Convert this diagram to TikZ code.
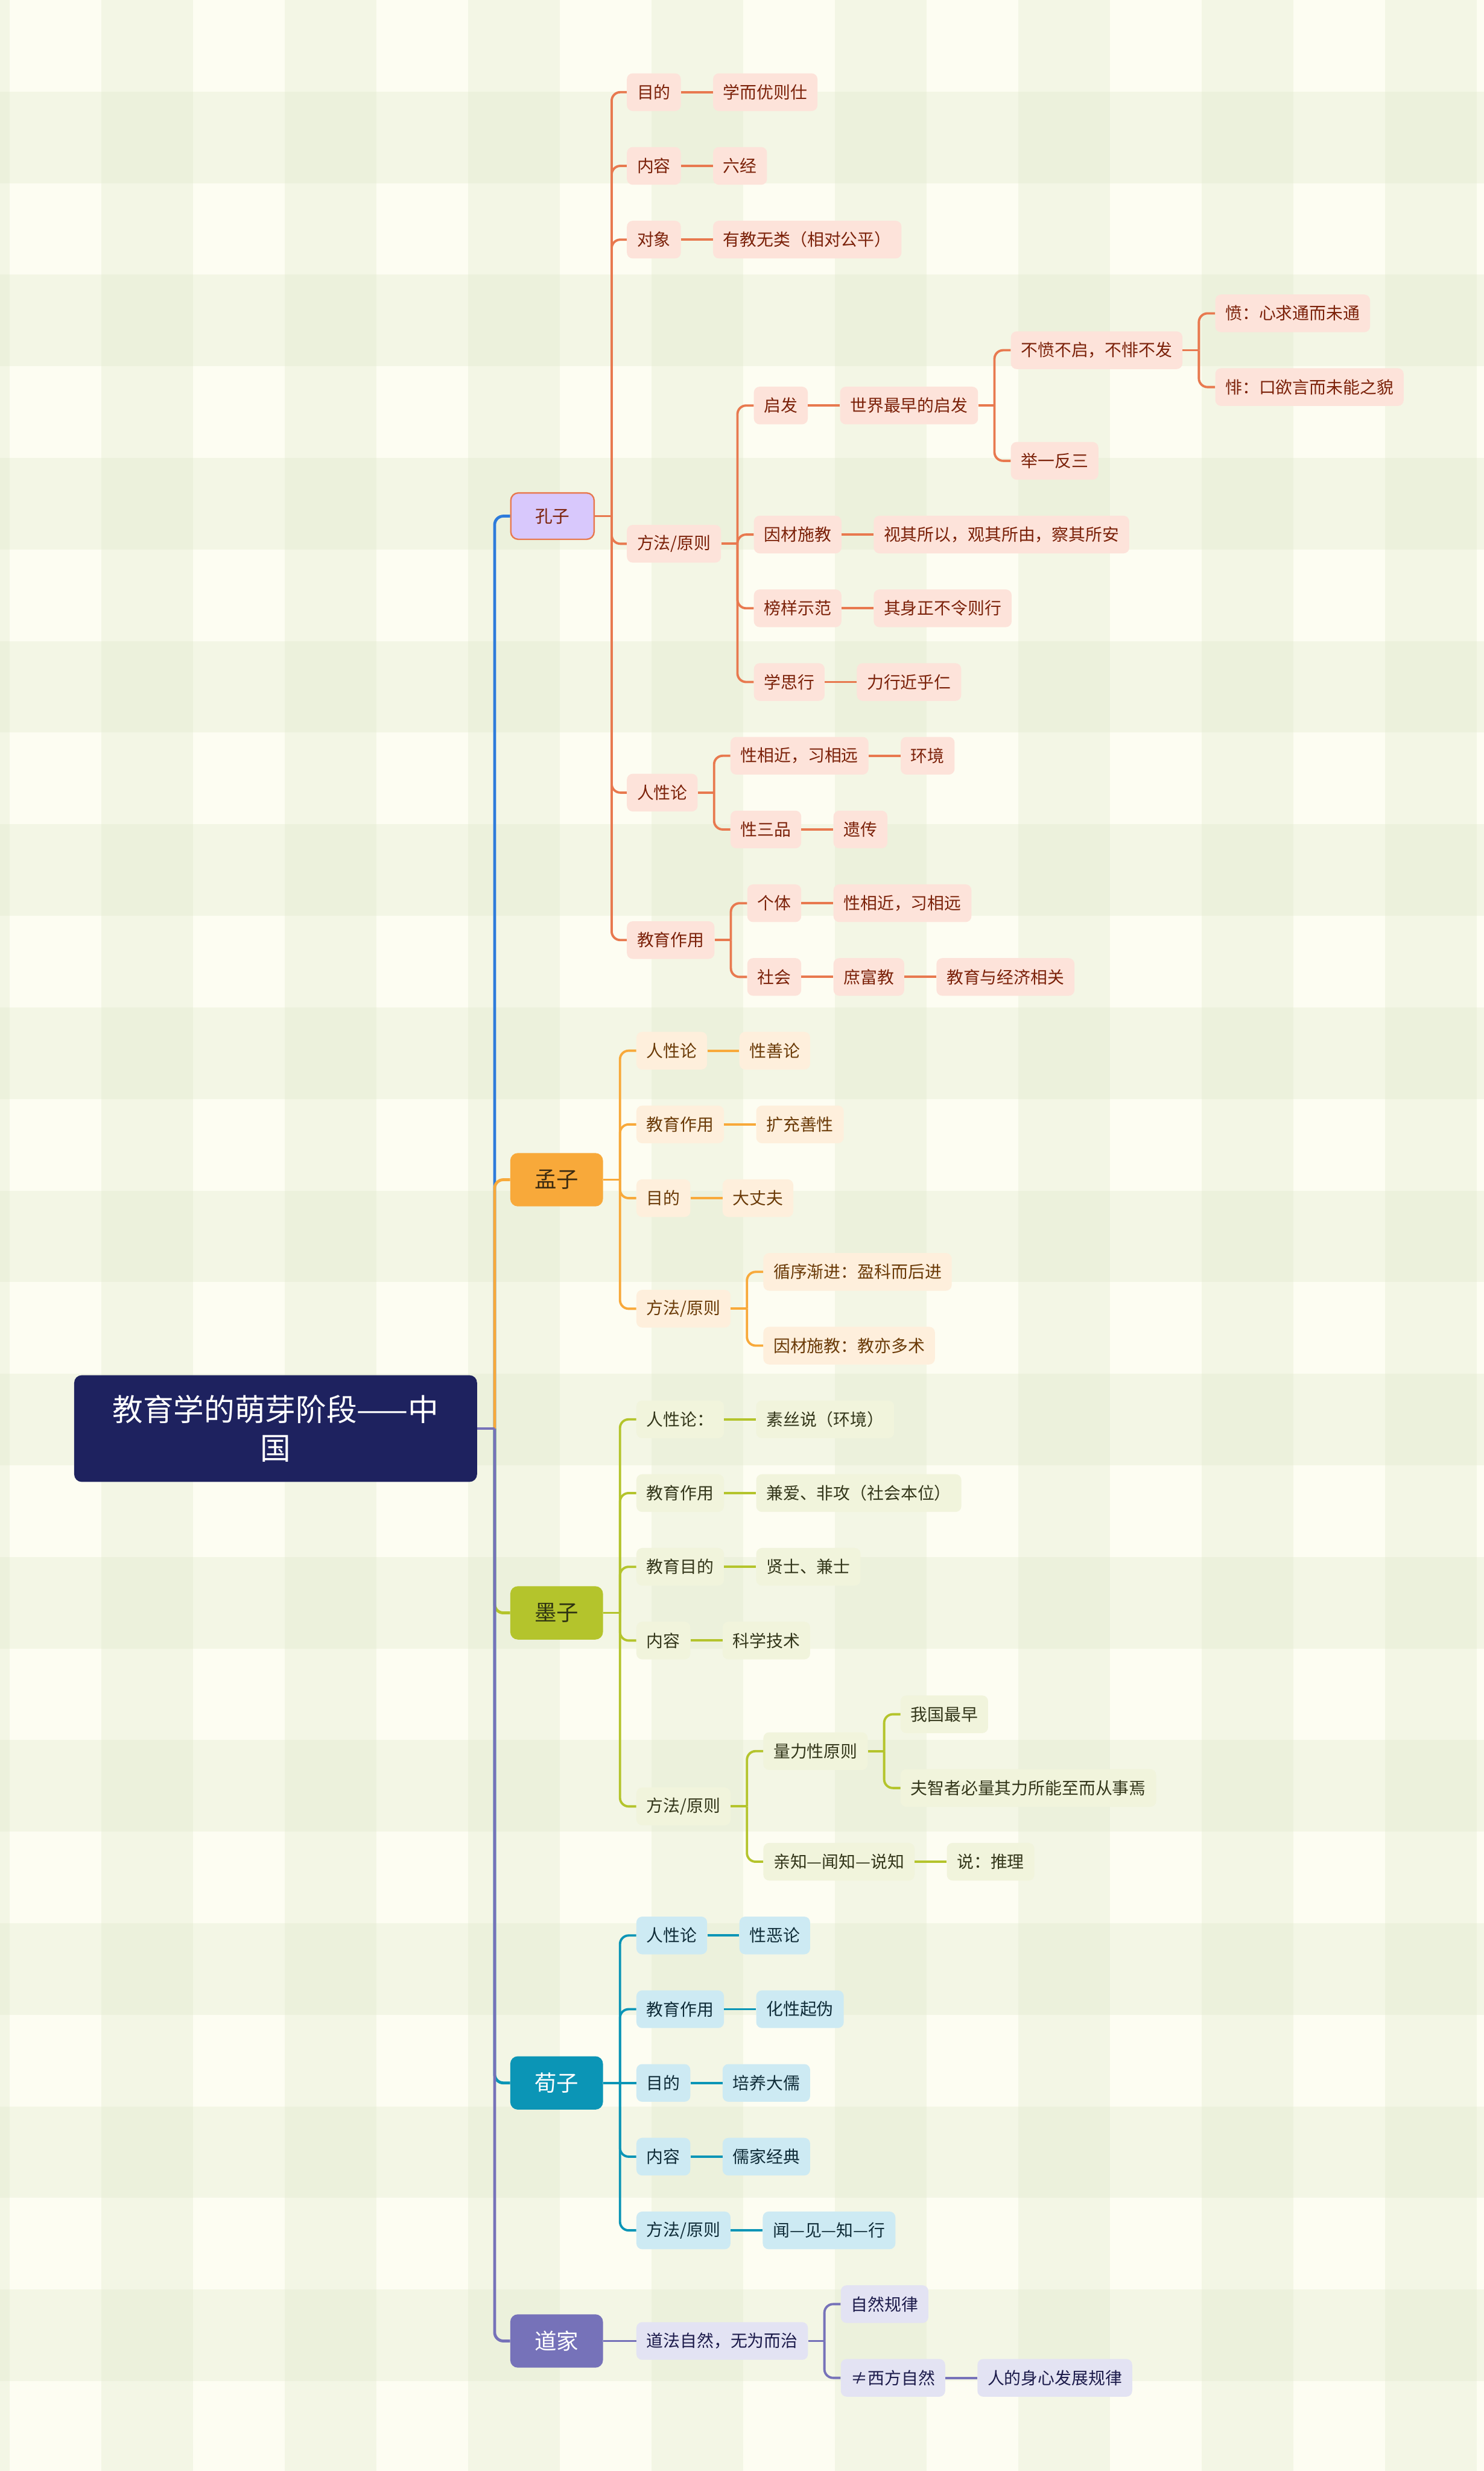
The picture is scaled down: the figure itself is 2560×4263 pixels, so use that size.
\documentclass[tikz,border=0pt]{standalone}
\usepackage{fontspec}
\setmainfont{Noto Sans CJK SC}
\usepackage{tikz}
\usetikzlibrary{positioning,calc}

\definecolor{bgcream}{HTML}{FDFDF2}
\definecolor{bgband}{HTML}{DCE6C8}
\definecolor{rootfill}{HTML}{1E225F}
\definecolor{kzblue}{HTML}{2D7BDB}
\definecolor{kzline}{HTML}{E8794F}
\definecolor{kzhead}{HTML}{D8C8FC}
\definecolor{kzfill}{HTML}{FDE3DA}
\definecolor{kztext}{HTML}{7B2109}
\definecolor{mzline}{HTML}{F8A93A}
\definecolor{mzhead}{HTML}{3B2A10}
\definecolor{mzfill}{HTML}{FEEFDC}
\definecolor{mztext}{HTML}{6A3A07}
\definecolor{moline}{HTML}{B4C42C}
\definecolor{mohead}{HTML}{2E3312}
\definecolor{mofill}{HTML}{F1F4DC}
\definecolor{motext}{HTML}{33361A}
\definecolor{xzline}{HTML}{0B95B6}
\definecolor{xzfill}{HTML}{CDEAF3}
\definecolor{xztext}{HTML}{0F2C38}
\definecolor{djline}{HTML}{7672B9}
\definecolor{djfill}{HTML}{E3E3F3}
\definecolor{djtext}{HTML}{1C1B4B}

\begin{document}
\begin{tikzpicture}[
  x=0.2mm, y=-25.44mm,
  root/.style={fill=rootfill, text=white, rounded corners=2.6mm, minimum width=139mm,
    minimum height=36.8mm, align=center, font=\fontsize{30}{38}\selectfont},
  head/.style={rounded corners=2.6mm, inner xsep=8.4mm, inner ysep=0pt, minimum height=18.4mm,
    anchor=west, font=\fontsize{21.6}{26}\selectfont},
  leaf/.style={rounded corners=2mm, inner xsep=3.5mm, inner ysep=0pt, minimum height=13mm,
    anchor=west, font=\fontsize{16.5}{20}\selectfont},
  trunk/.style={line width=1mm, rounded corners=3mm},
  link/.style={line width=0.8mm, rounded corners=3mm},
  kz/.style={leaf, fill=kzfill, text=kztext},
  mz/.style={leaf, fill=mzfill, text=mztext},
  mo/.style={leaf, fill=mofill, text=motext},
  xz/.style={leaf, fill=xzfill, text=xztext},
  dj/.style={leaf, fill=djfill, text=djtext},
  kzl/.style={link, draw=kzline},
  mzl/.style={link, draw=mzline},
  mol/.style={link, draw=moline},
  xzl/.style={link, draw=xzline},
  djl/.style={link, draw=djline}]

% checked background
\begin{scope}[shift={(0mm,31.8mm)}, x=0.2mm, y=-0.2mm]
  \useasboundingbox (0,0) rectangle (2560,4263);
  \fill[bgcream] (0,0) rectangle (2560,4263);
  \foreach \k in {-1,...,7}
    \fill[bgband, fill opacity=0.3] ({174.5+316.4*\k},0) rectangle ++(158.2,4263);
  \foreach \k in {0,...,12}
    \fill[bgband, fill opacity=0.3] (0,{158+316*\k}) rectangle ++(2560,158);
\end{scope}

% root and main branches
\node[root] (root) at (475.5,18.125) {教育学的萌芽阶段——中\\国};
\node[head, fill=kzhead, draw=kzline, line width=0.5mm, text=kztext, minimum height=16mm,
  font=\fontsize{17}{20}\selectfont] (kz) at (880,5.75) {孔子};
\node[head, fill=mzline, text=mzhead] (mz) at (880,14.75) {孟子};
\node[head, fill=moline, text=mohead] (mo) at (880,20.625) {墨子};
\node[head, fill=xzline, text=white] (xz) at (880,27) {荀子};
\node[head, fill=djline, text=white] (dj) at (880,30.5) {道家};

\coordinate (rj) at ($(root.east)+(30,0)$);
\draw[trunk, draw=kzblue] (rj) |- (kz.west);
\draw[trunk, draw=mzline] (rj) |- (mz.west);
\draw[trunk, draw=moline] (rj) |- (mo.west);
\draw[trunk, draw=xzline] (rj) |- (xz.west);
\draw[trunk, draw=djline] (rj) |- (dj.west);
\draw[trunk, draw=djline] (root.east) -- (rj);

% Kongzi
\coordinate (kzj) at ($(kz.east)+(29,0)$);
\coordinate (kzc) at ($(kz.east)+(55,0)$);
\node[kz] (kzmd) at (kzc |- 0,0) {目的};
\node[kz, right=11mm of kzmd] (kzmd1) {学而优则仕};
\node[kz] (kznr) at (kzc |- 0,1) {内容};
\node[kz, right=11mm of kznr] (kznr1) {六经};
\node[kz] (kzdx) at (kzc |- 0,2) {对象};
\node[kz, right=11mm of kzdx] (kzdx1) {有教无类（相对公平）};
\node[kz] (kzff) at (kzc |- 0,6.125) {方法/原则};
\node[kz] (kzrx) at (kzc |- 0,9.5) {人性论};
\node[kz] (kzzy) at (kzc |- 0,11.5) {教育作用};

\coordinate (kzffj) at ($(kzff.east)+(28,0)$);
\coordinate (kzffc) at ($(kzff.east)+(56,0)$);
\node[kz] (kzqf) at (kzffc |- 0,4.25) {启发};
\node[kz, right=11mm of kzqf] (kzqf1) {世界最早的启发};
\node[kz] (kzyc) at (kzffc |- 0,6) {因材施教};
\node[kz, right=11mm of kzyc] (kzyc1) {视其所以，观其所由，察其所安};
\node[kz] (kzby) at (kzffc |- 0,7) {榜样示范};
\node[kz, right=11mm of kzby] (kzby1) {其身正不令则行};
\node[kz] (kzxs) at (kzffc |- 0,8) {学思行};
\node[kz, right=11mm of kzxs] (kzxs1) {力行近乎仁};

\coordinate (kzqfj) at ($(kzqf1.east)+(28,0)$);
\coordinate (kzqfc) at ($(kzqf1.east)+(56,0)$);
\node[kz] (kzbf) at (kzqfc |- 0,3.5) {不愤不启，不悱不发};
\node[kz] (kzjy) at (kzqfc |- 0,5) {举一反三};
\coordinate (kzbfj) at ($(kzbf.east)+(28,0)$);
\coordinate (kzbfc) at ($(kzbf.east)+(56,0)$);
\node[kz] (kzfen) at (kzbfc |- 0,3) {愤：心求通而未通};
\node[kz] (kzfei) at (kzbfc |- 0,4) {悱：口欲言而未能之貌};

\coordinate (kzrxj) at ($(kzrx.east)+(28,0)$);
\coordinate (kzrxc) at ($(kzrx.east)+(56,0)$);
\node[kz] (kzxj) at (kzrxc |- 0,9) {性相近，习相远};
\node[kz, right=11mm of kzxj] (kzxj1) {环境};
\node[kz] (kzsp) at (kzrxc |- 0,10) {性三品};
\node[kz, right=11mm of kzsp] (kzsp1) {遗传};

\coordinate (kzzyj) at ($(kzzy.east)+(28,0)$);
\coordinate (kzzyc) at ($(kzzy.east)+(56,0)$);
\node[kz] (kzgt) at (kzzyc |- 0,11) {个体};
\node[kz, right=11mm of kzgt] (kzgt1) {性相近，习相远};
\node[kz] (kzsh) at (kzzyc |- 0,12) {社会};
\node[kz, right=11mm of kzsh] (kzsh1) {庶富教};
\node[kz, right=11mm of kzsh1] (kzsh2) {教育与经济相关};

\draw[kzl] (kz.east) -- (kzj);
\foreach \c in {kzmd,kznr,kzdx,kzff,kzrx,kzzy} \draw[kzl] (kzj) |- (\c.west);
\draw[kzl] (kzmd) -- (kzmd1);
\draw[kzl] (kznr) -- (kznr1);
\draw[kzl] (kzdx) -- (kzdx1);
\draw[kzl] (kzff.east) -- (kzffj);
\foreach \c in {kzqf,kzyc,kzby,kzxs} \draw[kzl] (kzffj) |- (\c.west);
\draw[kzl] (kzqf) -- (kzqf1);
\draw[kzl] (kzyc) -- (kzyc1);
\draw[kzl] (kzby) -- (kzby1);
\draw[kzl] (kzxs) -- (kzxs1);
\draw[kzl] (kzqf1.east) -- (kzqfj);
\foreach \c in {kzbf,kzjy} \draw[kzl] (kzqfj) |- (\c.west);
\draw[kzl] (kzbf.east) -- (kzbfj);
\foreach \c in {kzfen,kzfei} \draw[kzl] (kzbfj) |- (\c.west);
\draw[kzl] (kzrx.east) -- (kzrxj);
\foreach \c in {kzxj,kzsp} \draw[kzl] (kzrxj) |- (\c.west);
\draw[kzl] (kzxj) -- (kzxj1);
\draw[kzl] (kzsp) -- (kzsp1);
\draw[kzl] (kzzy.east) -- (kzzyj);
\foreach \c in {kzgt,kzsh} \draw[kzl] (kzzyj) |- (\c.west);
\draw[kzl] (kzgt) -- (kzgt1);
\draw[kzl] (kzsh) -- (kzsh1);
\draw[kzl] (kzsh1) -- (kzsh2);

% Mengzi
\coordinate (mzj) at ($(mz.east)+(29,0)$);
\coordinate (mzc) at ($(mz.east)+(57,0)$);
\node[mz] (mzrx) at (mzc |- 0,13) {人性论};
\node[mz, right=11mm of mzrx] (mzrx1) {性善论};
\node[mz] (mzzy) at (mzc |- 0,14) {教育作用};
\node[mz, right=11mm of mzzy] (mzzy1) {扩充善性};
\node[mz] (mzmd) at (mzc |- 0,15) {目的};
\node[mz, right=11mm of mzmd] (mzmd1) {大丈夫};
\node[mz] (mzff) at (mzc |- 0,16.5) {方法/原则};
\coordinate (mzffj) at ($(mzff.east)+(28,0)$);
\coordinate (mzffc) at ($(mzff.east)+(56,0)$);
\node[mz] (mzxx) at (mzffc |- 0,16) {循序渐进：盈科而后进};
\node[mz] (mzyc) at (mzffc |- 0,17) {因材施教：教亦多术};

\draw[mzl] (mz.east) -- (mzj);
\foreach \c in {mzrx,mzzy,mzmd,mzff} \draw[mzl] (mzj) |- (\c.west);
\draw[mzl] (mzrx) -- (mzrx1);
\draw[mzl] (mzzy) -- (mzzy1);
\draw[mzl] (mzmd) -- (mzmd1);
\draw[mzl] (mzff.east) -- (mzffj);
\foreach \c in {mzxx,mzyc} \draw[mzl] (mzffj) |- (\c.west);

% Mozi
\coordinate (moj) at ($(mo.east)+(29,0)$);
\coordinate (moc) at ($(mo.east)+(57,0)$);
\node[mo] (morx) at (moc |- 0,18) {人性论：};
\node[mo, right=11mm of morx] (morx1) {素丝说（环境）};
\node[mo] (mozy) at (moc |- 0,19) {教育作用};
\node[mo, right=11mm of mozy] (mozy1) {兼爱、非攻（社会本位）};
\node[mo] (momd) at (moc |- 0,20) {教育目的};
\node[mo, right=11mm of momd] (momd1) {贤士、兼士};
\node[mo] (monr) at (moc |- 0,21) {内容};
\node[mo, right=11mm of monr] (monr1) {科学技术};
\node[mo] (moff) at (moc |- 0,23.25) {方法/原则};
\coordinate (moffj) at ($(moff.east)+(28,0)$);
\coordinate (moffc) at ($(moff.east)+(56,0)$);
\node[mo] (moll) at (moffc |- 0,22.5) {量力性原则};
\node[mo] (moqz) at (moffc |- 0,24) {亲知—闻知—说知};
\node[mo, right=11mm of moqz] (moqz1) {说：推理};
\coordinate (mollj) at ($(moll.east)+(28,0)$);
\coordinate (mollc) at ($(moll.east)+(56,0)$);
\node[mo] (mowg) at (mollc |- 0,22) {我国最早};
\node[mo] (mofz) at (mollc |- 0,23) {夫智者必量其力所能至而从事焉};

\draw[mol] (mo.east) -- (moj);
\foreach \c in {morx,mozy,momd,monr,moff} \draw[mol] (moj) |- (\c.west);
\draw[mol] (morx) -- (morx1);
\draw[mol] (mozy) -- (mozy1);
\draw[mol] (momd) -- (momd1);
\draw[mol] (monr) -- (monr1);
\draw[mol] (moff.east) -- (moffj);
\foreach \c in {moll,moqz} \draw[mol] (moffj) |- (\c.west);
\draw[mol] (moqz) -- (moqz1);
\draw[mol] (moll.east) -- (mollj);
\foreach \c in {mowg,mofz} \draw[mol] (mollj) |- (\c.west);

% Xunzi
\coordinate (xzj) at ($(xz.east)+(29,0)$);
\coordinate (xzc) at ($(xz.east)+(57,0)$);
\node[xz] (xzrx) at (xzc |- 0,25) {人性论};
\node[xz, right=11mm of xzrx] (xzrx1) {性恶论};
\node[xz] (xzzy) at (xzc |- 0,26) {教育作用};
\node[xz, right=11mm of xzzy] (xzzy1) {化性起伪};
\node[xz] (xzmd) at (xzc |- 0,27) {目的};
\node[xz, right=11mm of xzmd] (xzmd1) {培养大儒};
\node[xz] (xznr) at (xzc |- 0,28) {内容};
\node[xz, right=11mm of xznr] (xznr1) {儒家经典};
\node[xz] (xzff) at (xzc |- 0,29) {方法/原则};
\node[xz, right=11mm of xzff] (xzff1) {闻—见—知—行};

\draw[xzl] (xz.east) -- (xzmd.west);
\foreach \c in {xzrx,xzzy,xznr,xzff} \draw[xzl] (xzj) |- (\c.west);
\draw[xzl] (xzrx) -- (xzrx1);
\draw[xzl] (xzzy) -- (xzzy1);
\draw[xzl] (xzmd) -- (xzmd1);
\draw[xzl] (xznr) -- (xznr1);
\draw[xzl] (xzff) -- (xzff1);

% Daojia
\node[dj, right=11.4mm of dj] (djdf) {道法自然，无为而治};
\coordinate (djdfj) at ($(djdf.east)+(28,0)$);
\coordinate (djdfc) at ($(djdf.east)+(56,0)$);
\node[dj] (djzr) at (djdfc |- 0,30) {自然规律};
\node[dj] (djxf) at (djdfc |- 0,31) {≠西方自然};
\node[dj, right=11mm of djxf] (djxf1) {人的身心发展规律};

\draw[djl] (dj) -- (djdf);
\draw[djl] (djdf.east) -- (djdfj);
\foreach \c in {djzr,djxf} \draw[djl] (djdfj) |- (\c.west);
\draw[djl] (djxf) -- (djxf1);
\end{tikzpicture}
\end{document}
